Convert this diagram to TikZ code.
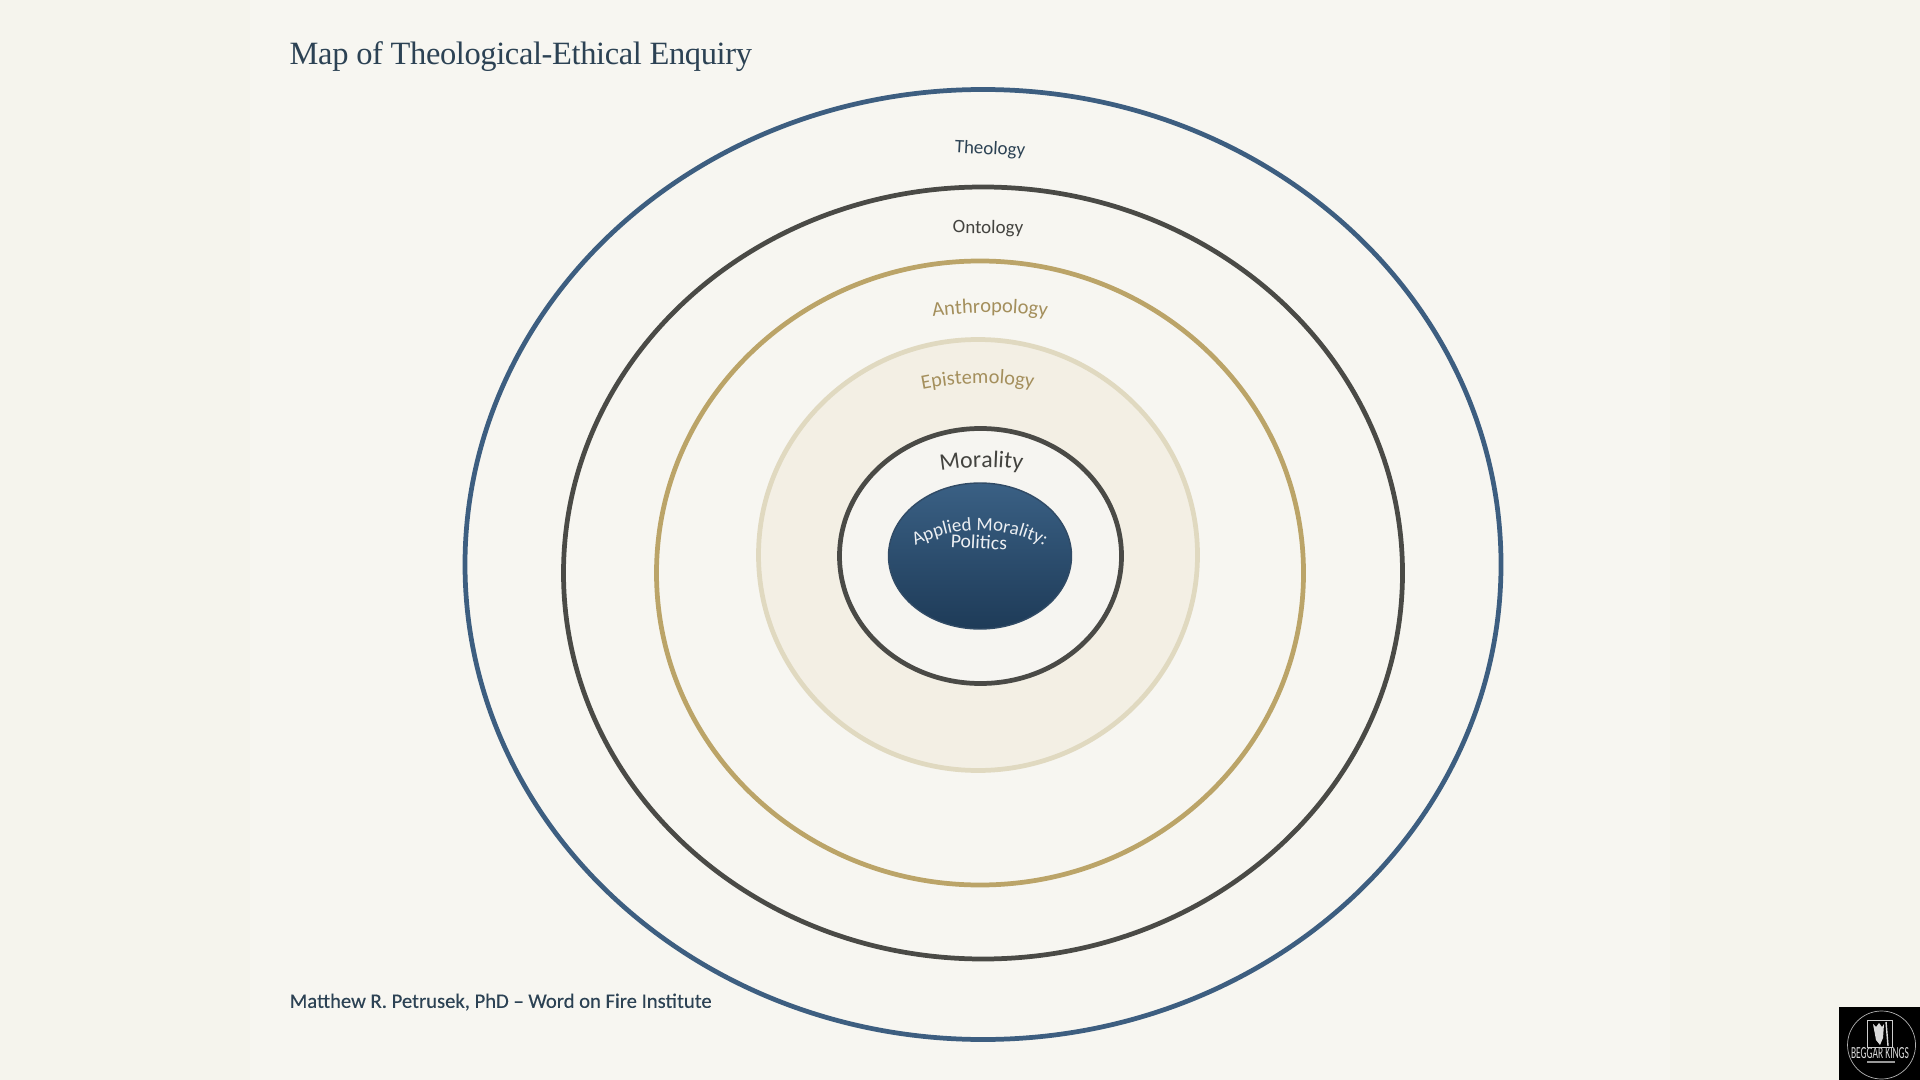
\documentclass[tikz,border=0pt]{standalone}
\usepackage{fontspec}
\setmainfont[LetterSpace=-1.2]{Liberation Serif}
\newfontfamily\labf{Carlito}
\newfontfamily\credf[FakeBold=0.25]{Carlito}
\usepackage{xcolor}
\definecolor{paper}{HTML}{F5F4ED}
\definecolor{sheet}{HTML}{F7F6F1}
\definecolor{navy}{HTML}{3D5E80}
\definecolor{ink}{HTML}{2C4254}
\definecolor{coal}{HTML}{4A4A46}
\definecolor{gold}{HTML}{BBA468}
\definecolor{goldtxt}{HTML}{A48F5C}
\definecolor{pale}{HTML}{E0D9C0}
\definecolor{band}{HTML}{F3EFE4}
\definecolor{inner}{HTML}{F6F5F1}
\definecolor{blueup}{HTML}{3A6084}
\definecolor{bluedn}{HTML}{1E3B58}
\usepackage{tikz}
\usetikzlibrary{positioning,shapes.geometric,decorations.text}
\tikzset{
  ring/.style={ellipse,inner sep=0pt,line width=1.35pt},
  lab/.style={font=\labf\fontsize{5.4}{6.5}\selectfont,inner sep=0pt},
  arc/.style={decorate,decoration={text along path,text align=center,text={#1}}},
}
\begin{document}
\begin{tikzpicture}
\useasboundingbox (0,0) rectangle (19.2,-10.8);
\fill[paper] (0,0) rectangle (19.2,-10.8);
\fill[sheet] (2.5,0) rectangle (16.7,-10.8);
% rings, outside in
\node[ring,draw=navy,minimum width=10.36cm,minimum height=9.5cm] (theo) at (9.83,-5.645) {};
\node[ring,draw=coal,minimum width=8.39cm,minimum height=7.72cm] (onto) at (9.83,-5.73) {};
\node[ring,draw=gold,minimum width=6.47cm,minimum height=6.24cm] (anth) at (9.80,-5.73) {};
\node[ring,draw=pale,fill=band,minimum width=4.39cm,minimum height=4.31cm] (epis) at (9.78,-5.55) {};
\node[ring,draw=coal,fill=inner,minimum width=2.82cm,minimum height=2.55cm] (mora) at (9.805,-5.56) {};
\node[ring,draw=navy!80!black,line width=0.4pt,top color=blueup,bottom color=bluedn,minimum width=1.83cm,minimum height=1.46cm] (poli) at (9.80,-5.56) {};
% labels
\node[lab,text=ink,rotate=-3] (theol) at (9.90,-1.495) {Theology};
\node[lab,text=coal!90!black,rotate=-1] (ontol) at (9.88,-2.285) {Ontology};
\coordinate (al) at (8.9,-3.23);
\coordinate (ar) at (10.9,-3.23);
\path[arc={|\labf\fontsize{5.85}{7}\selectfont\color{goldtxt}|Anthropology}] (al) to[bend left=10] (ar);
\coordinate (el) at (8.88,-3.98);
\coordinate (er) at (10.68,-3.945);
\path[arc={|\labf\fontsize{5.8}{7}\selectfont\color{goldtxt}|Epistemology}] (el) to[bend left=14] (er);
\coordinate (ml) at (8.99,-4.80);
\coordinate (mr) at (10.64,-4.78);
\path[arc={|\labf\fontsize{6.75}{8}\selectfont\color{coal!90!black}|Morality}] (ml) to[bend left=14] (mr);
\coordinate (pl) at (8.95,-5.58);
\coordinate (pr) at (10.65,-5.58);
\path[arc={|\labf\fontsize{5.4}{7}\selectfont\color{white!90!navy}|Applied Morality:}] (pl) to[bend left=34] (pr);
\node[lab,text=white!90!navy,font=\labf\fontsize{5.6}{7}\selectfont,rotate=-3] (polit) at (9.79,-5.42) {Politics};
% title and credit
\node[anchor=west,inner sep=0pt,text=ink,font=\fontsize{9.25}{11}\selectfont] (title) at (2.89,-0.57) {Map of Theological-Ethical Enquiry};
\node[anchor=west,inner sep=0pt,text=ink,font=\credf\fontsize{5.87}{7}\selectfont] (credit) at (2.89,-10.02) {Matthew R. Petrusek, PhD – Word on Fire Institute};
% logo
\node[fill=black,minimum width=0.81cm,minimum height=0.73cm,inner sep=0pt] (logo) at (18.795,-10.435) {};
\node[circle,draw=white!70!black,line width=0.2pt,minimum size=0.68cm,inner sep=0pt] (seal) at (18.815,-10.45) {};
\node[inner sep=0pt,text=white!85!black,font=\labf\fontsize{2.6}{3}\selectfont] (kings) at (18.80,-10.535) {\resizebox{0.58cm}{0.11cm}{BEGGAR KINGS}};
\node[draw=white!80!black,line width=0.2pt,minimum width=0.25cm,minimum height=0.27cm,inner sep=0pt] (king) at (18.795,-10.335) {};
\fill[white!85!black] (18.73,-10.24) -- (18.76,-10.27) -- (18.79,-10.23) -- (18.82,-10.27) -- (18.84,-10.24) -- (18.83,-10.38) -- (18.80,-10.45) -- (18.76,-10.40) -- cycle;
\draw[white!85!black,line width=0.4pt] (18.86,-10.22) -- (18.88,-10.46);
\draw[white!60!black,line width=0.3pt] (18.67,-10.62) -- (18.95,-10.62);
\end{tikzpicture}
\end{document}
